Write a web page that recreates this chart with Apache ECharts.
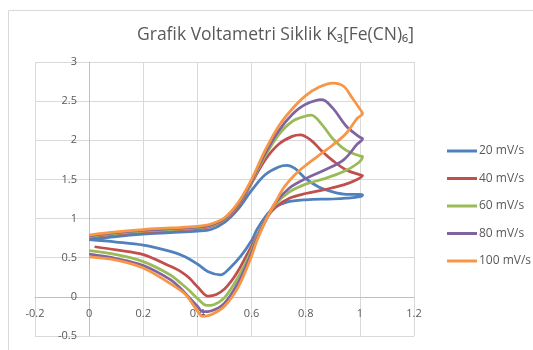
<!DOCTYPE html>
<html>
<head>
<meta charset="utf-8">
<script src="https://cdn.jsdelivr.net/npm/echarts@6/dist/echarts.min.js"></script>
<style>html,body{margin:0;padding:0;background:#fff}#c{width:533px;height:350px}</style>
</head>
<body>
<div id="c"></div>
<script>
var titleText = 'Grafik Voltametri Siklik K\u2083[Fe(CN)\u2086]';
var seriesNames = ['20 mV/s', '40 mV/s', '60 mV/s', '80 mV/s', '100 mV/s'];
var seriesColors = ['#4F81BD', '#C0504D', '#9BBB59', '#8064A2', '#F79646'];

var cv20 = [
  [0,0.73],[0.1,0.77],[0.2,0.80],[0.3,0.82],[0.4,0.84],[0.45,0.86],[0.5,0.95],[0.55,1.12],[0.6,1.36],[0.65,1.56],[0.7,1.66],[0.73,1.68],[0.76,1.64],[0.8,1.51],[0.85,1.40],[0.9,1.34],[0.95,1.31],[1.0,1.31],[1.01,1.30],
  [1.0,1.28],[0.95,1.26],[0.9,1.25],[0.8,1.24],[0.73,1.21],[0.68,1.13],[0.65,1.02],[0.62,0.86],[0.6,0.72],[0.56,0.52],[0.52,0.37],[0.485,0.28],[0.44,0.32],[0.4,0.42],[0.35,0.52],[0.3,0.58],[0.2,0.66],[0.1,0.70],[0,0.73]
];
var cv40 = [
  [0,0.76],[0.1,0.80],[0.2,0.83],[0.3,0.85],[0.4,0.87],[0.45,0.90],[0.5,0.98],[0.55,1.15],[0.6,1.45],[0.65,1.75],[0.7,1.95],[0.75,2.05],[0.78,2.07],[0.82,2.00],[0.86,1.86],[0.9,1.74],[0.95,1.62],[1.0,1.56],[1.01,1.55],
  [0.99,1.50],[0.94,1.43],[0.87,1.37],[0.8,1.32],[0.74,1.26],[0.69,1.15],[0.66,1.03],[0.62,0.78],[0.58,0.52],[0.55,0.33],[0.525,0.20],[0.5,0.10],[0.47,0.03],[0.44,0.01],[0.4,0.13],[0.37,0.24],[0.34,0.32],[0.3,0.39],[0.2,0.54],[0.1,0.60],[0.02,0.64]
];
var cv60 = [
  [0,0.77],[0.1,0.81],[0.2,0.84],[0.3,0.86],[0.4,0.88],[0.45,0.91],[0.5,0.99],[0.55,1.17],[0.6,1.47],[0.65,1.80],[0.7,2.07],[0.75,2.24],[0.8,2.31],[0.82,2.32],[0.86,2.20],[0.9,2.02],[0.95,1.87],[1.0,1.80],[1.01,1.79],
  [0.99,1.70],[0.94,1.60],[0.87,1.51],[0.8,1.44],[0.74,1.34],[0.69,1.19],[0.66,1.03],[0.62,0.76],[0.59,0.52],[0.55,0.25],[0.5,-0.01],[0.46,-0.10],[0.435,-0.11],[0.4,-0.02],[0.37,0.08],[0.34,0.17],[0.3,0.28],[0.2,0.45],[0.1,0.54],[0,0.59]
];
var cv80 = [
  [0,0.78],[0.1,0.82],[0.2,0.85],[0.3,0.87],[0.4,0.89],[0.45,0.92],[0.5,1.00],[0.55,1.18],[0.6,1.48],[0.65,1.83],[0.7,2.12],[0.75,2.33],[0.8,2.46],[0.86,2.52],[0.9,2.41],[0.95,2.18],[1.0,2.04],[1.01,2.02],
  [0.99,1.95],[0.94,1.75],[0.87,1.62],[0.8,1.51],[0.74,1.39],[0.69,1.21],[0.66,1.03],[0.62,0.74],[0.59,0.48],[0.55,0.18],[0.5,-0.08],[0.45,-0.18],[0.42,-0.19],[0.4,-0.12],[0.37,-0.01],[0.34,0.10],[0.3,0.22],[0.2,0.40],[0.1,0.49],[0,0.545]
];
var cv100 = [
  [0,0.79],[0.1,0.83],[0.2,0.86],[0.3,0.88],[0.4,0.90],[0.45,0.93],[0.5,1.01],[0.55,1.20],[0.6,1.50],[0.65,1.87],[0.7,2.18],[0.75,2.40],[0.8,2.57],[0.85,2.68],[0.9,2.73],[0.94,2.69],[0.97,2.55],[1.0,2.40],[1.01,2.34],
  [0.99,2.28],[0.95,2.09],[0.9,1.94],[0.85,1.81],[0.8,1.68],[0.76,1.56],[0.72,1.40],[0.69,1.22],[0.66,1.03],[0.62,0.72],[0.6,0.52],[0.55,0.12],[0.5,-0.12],[0.45,-0.23],[0.42,-0.25],[0.4,-0.18],[0.37,-0.03],[0.35,0.05],[0.3,0.17],[0.2,0.37],[0.1,0.47],[0,0.51]
];
var seriesData = [cv20, cv40, cv60, cv80, cv100];

var chart = echarts.init(document.getElementById('c'));
var series = seriesNames.map(function (n, i) {
  return {
    name: n, type: 'line', data: seriesData[i], showSymbol: false, smooth: 0.35,
    lineStyle: { color: seriesColors[i], width: 2.75 }, itemStyle: { color: seriesColors[i] }
  };
});
chart.setOption({
  animation: false,
  backgroundColor: '#fff',
  graphic: [{ type: 'rect', shape: { x: 8.5, y: 10.5, width: 600, height: 400 }, style: { fill: 'none', stroke: '#d9d9d9', lineWidth: 1 }, silent: true }],
  title: { text: titleText, left: 132, top: 21, textStyle: { fontFamily: 'Open Sans', fontWeight: 'normal', fontSize: 17.5, color: '#595959' } },
  legend: {
    orient: 'vertical', left: 442, top: 140, itemWidth: 30, itemHeight: 3, icon: 'rect', itemGap: 15.5,
    textStyle: { fontFamily: 'Open Sans', fontSize: 12, color: '#595959', padding: [0,0,0,-3] }
  },
  grid: { left: 35, right: 119, top: 62, bottom: 14, containLabel: false },
  xAxis: {
    type: 'value', min: -0.2, max: 1.2, interval: 0.2, position: 'bottom', offset: -39,
    axisLine: { onZero: false, lineStyle: { color: '#bfbfbf' } },
    axisTick: { show: false },
    axisLabel: { color: '#595959', fontFamily: 'Open Sans', fontSize: 11, margin: 11, formatter: function (v) { return +v.toFixed(1) + ''; } },
    splitLine: { lineStyle: { color: '#d9d9d9' } }
  },
  yAxis: {
    type: 'value', min: -0.5, max: 3, interval: 0.5, position: 'left', offset: -54,
    axisLine: { show: true, onZero: false, lineStyle: { color: '#bfbfbf' } },
    axisTick: { show: false },
    axisLabel: { color: '#595959', fontFamily: 'Open Sans', fontSize: 11, margin: 12 },
    splitLine: { lineStyle: { color: '#d9d9d9' } }
  },
  series: series
});
</script>
</body>
</html>
